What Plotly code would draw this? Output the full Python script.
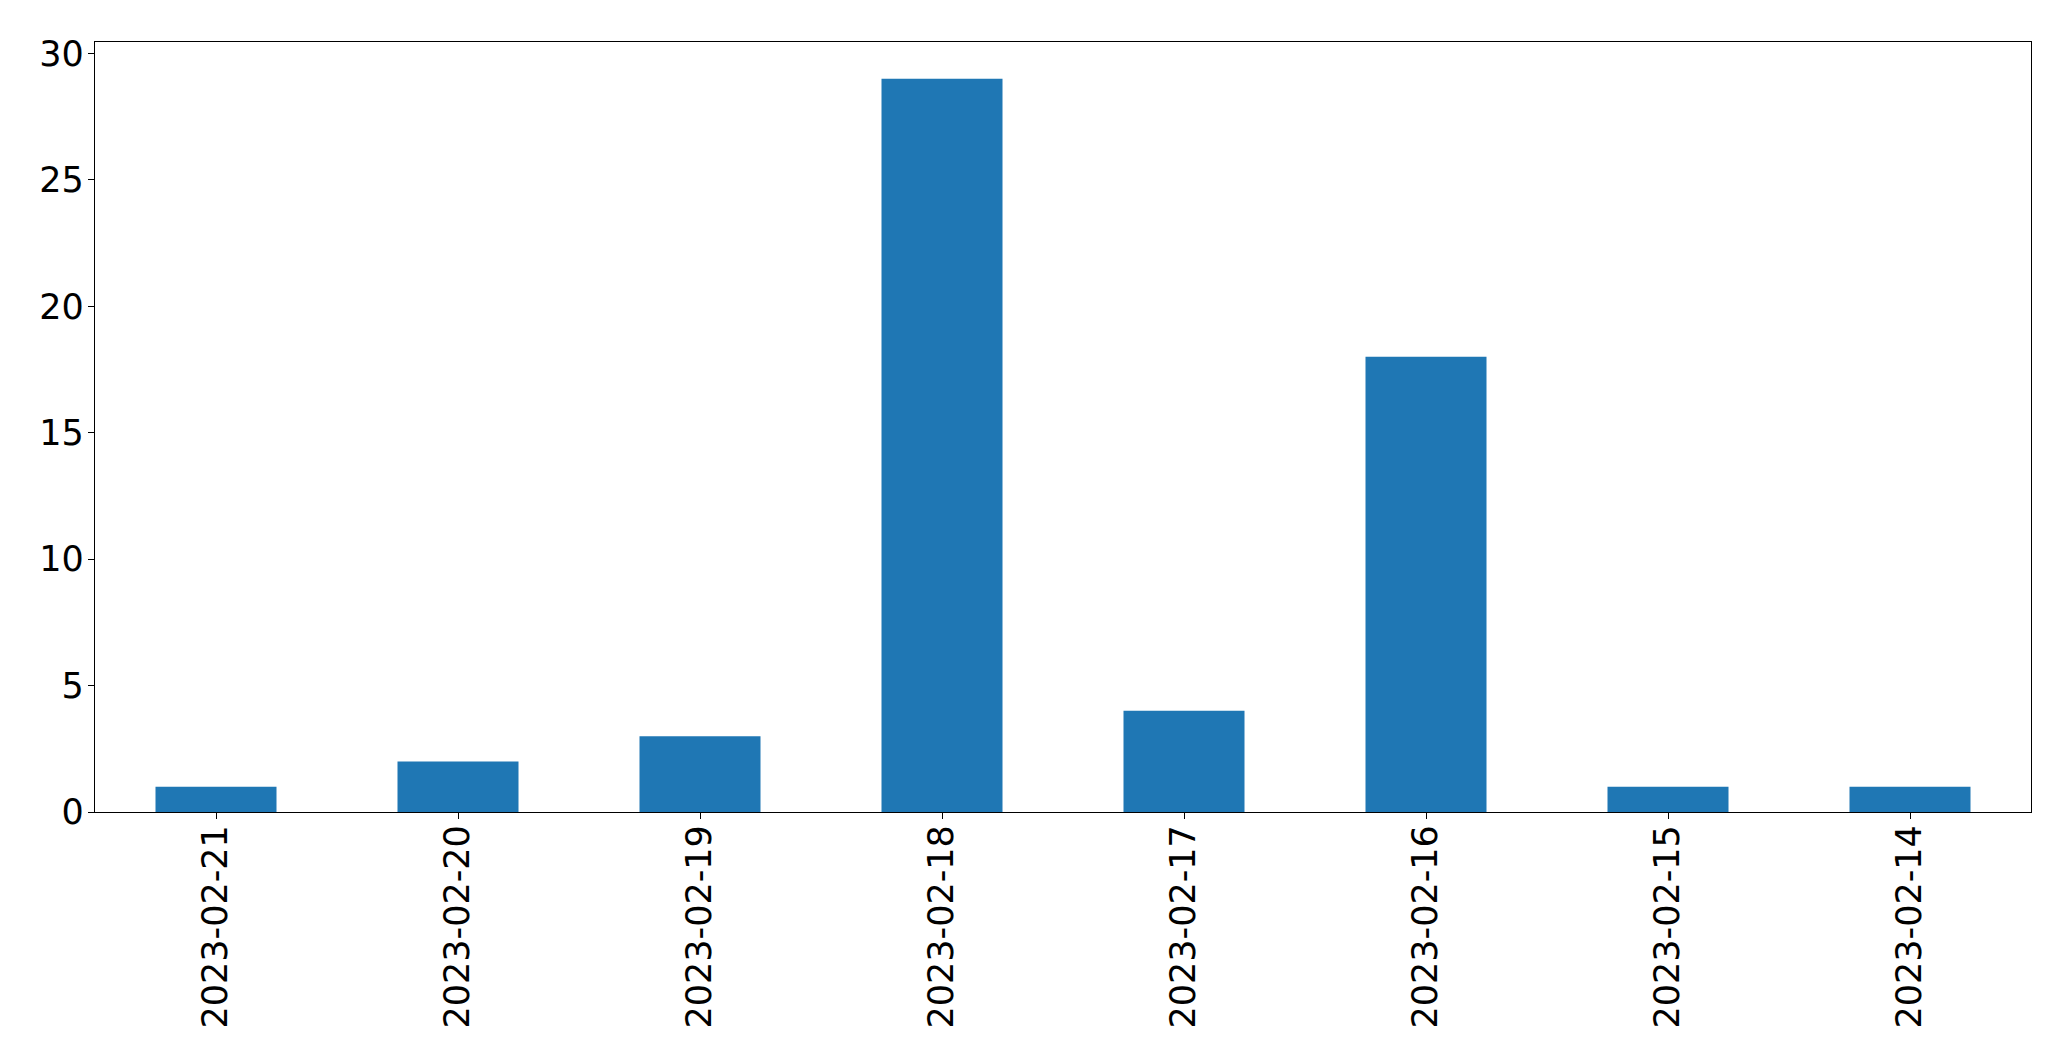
import plotly.graph_objects as go

categories = ["2023-02-21", "2023-02-20", "2023-02-19", "2023-02-18",
              "2023-02-17", "2023-02-16", "2023-02-15", "2023-02-14"]
values = [1, 2, 3, 29, 4, 18, 1, 1]
y_ticks = [0, 5, 10, 15, 20, 25, 30]

fig = go.Figure(go.Bar(x=categories, y=values, marker_color="#1f77b4",
                       marker_line_width=0, width=0.5))

font = dict(family="DejaVu Sans", size=35, color="black")
fig.update_layout(
    width=2063, height=1056,
    margin=dict(l=87, r=40, t=34, b=252, autoexpand=False),
    paper_bgcolor="white", plot_bgcolor="white",
    showlegend=False,
    font=font,
)
fig.update_xaxes(type="category", range=[-0.5, 7.5], showline=True, mirror=True,
                 linecolor="black", linewidth=1.3, ticks="outside", ticklen=6,
                 tickcolor="black", tickwidth=1.3, tickangle=-90, showgrid=False,
                 tickfont=font, ticklabelstandoff=-8, automargin=False)
fig.update_yaxes(range=[0, 30.45], tickvals=y_ticks, showline=True, mirror=True,
                 linecolor="black", linewidth=1.3, ticks="outside", ticklen=6,
                 tickcolor="black", tickwidth=1.3, showgrid=False, zeroline=False,
                 tickfont=font, ticklabelstandoff=-3, automargin=False)

fig.write_html("out.html")
